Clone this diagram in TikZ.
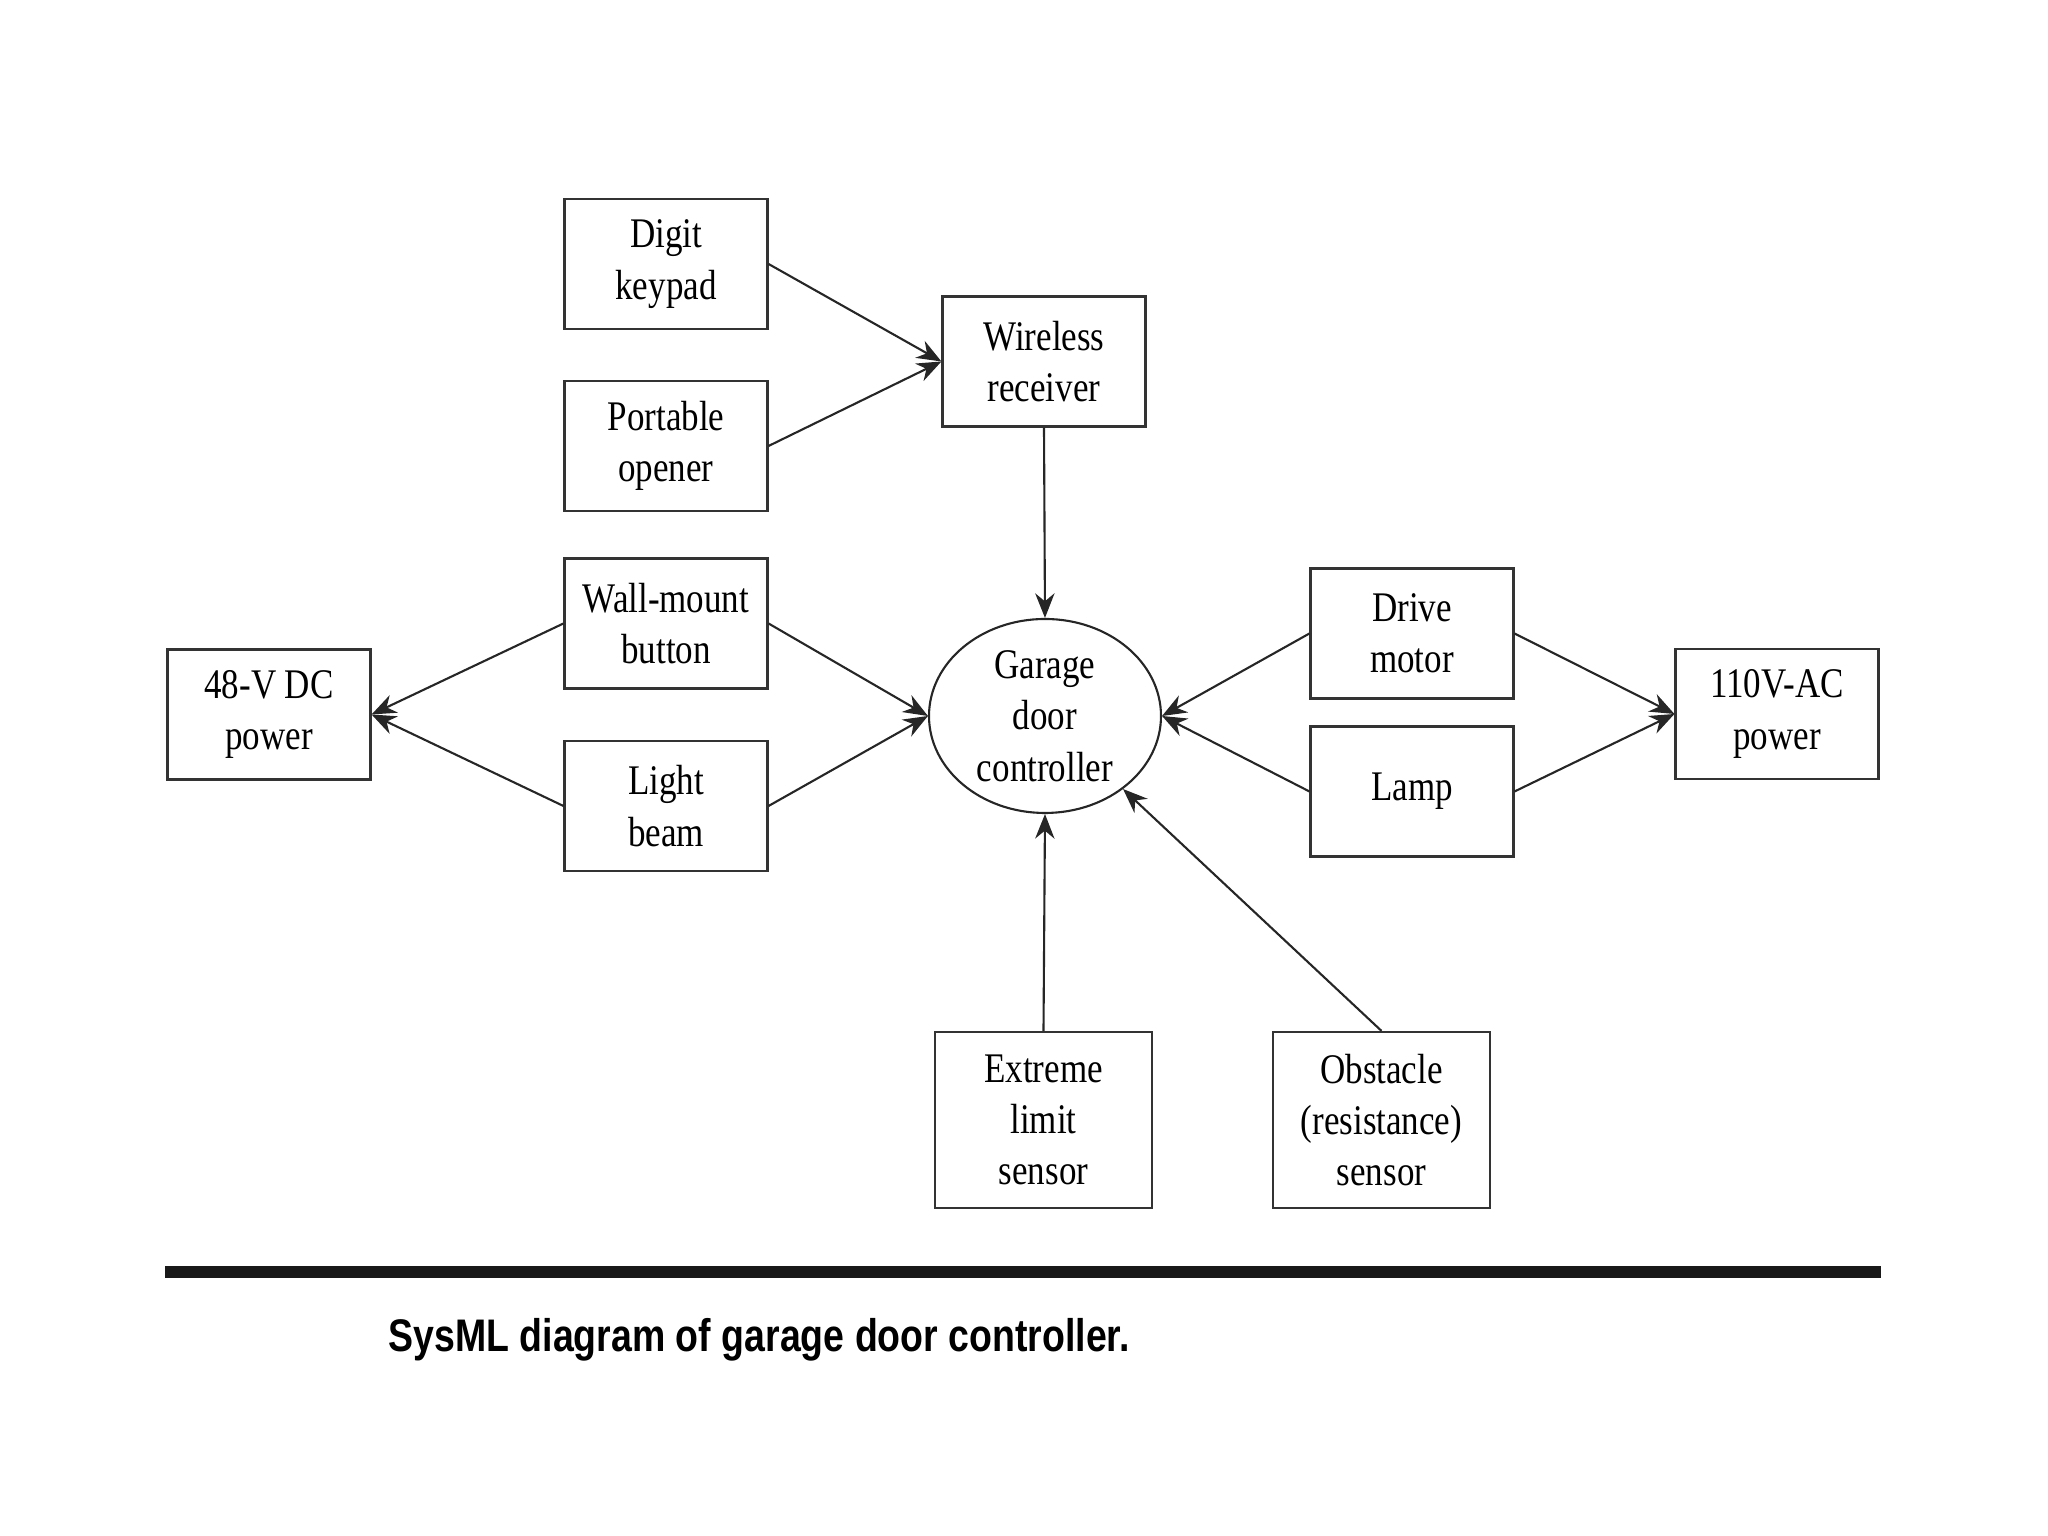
\documentclass[tikz,border=0pt]{standalone}
\usepackage{fontspec}
\newfontfamily\boxfont{Liberation Serif}[FakeStretch=0.83]
\newfontfamily\capfont{Liberation Sans}[FakeStretch=0.82]
\usetikzlibrary{arrows.meta,shapes.geometric}

\begin{document}
\begin{tikzpicture}[>={Stealth[length=7pt,width=5.5pt]},
  every node/.style={font=\boxfont\fontsize{12}{14.6}\selectfont},
  box/.style={draw=black!80, line width=0.6pt, align=center, minimum width=20.3mm, minimum height=13mm, inner sep=2pt},
  tall/.style={box, minimum width=21.7mm, minimum height=17.6mm},
  ctrl/.style={draw=black!85, line width=0.6pt, ellipse, align=center, minimum width=23.2mm, minimum height=19.4mm, inner sep=0pt},
  link/.style={->, line width=0.6pt, black!85}]
  \useasboundingbox (0,0) rectangle (20.48,15.36);
  % blocks
  \node[box] (keypad) at (6.66,12.72) {Digit\\keypad};
  \node[box] (opener) at (6.66,10.90) {Portable\\opener};
  \node[box] (radio) at (10.44,11.745) {Wireless\\receiver};
  \node[box] (wall) at (6.66,9.125) {Wall-mount\\button};
  \node[box] (beam) at (6.66,7.30) {Light\\beam};
  \node[box] (dc) at (2.69,8.215) {48-V DC\\power};
  \node[ctrl] (gdc) at (10.45,8.20) {Garage\\door\\controller};
  \node[box] (motor) at (14.12,9.025) {Drive\\motor};
  \node[box] (lamp) at (14.12,7.445) {Lamp};
  \node[box] (ac) at (17.77,8.22) {110V-AC\\power};
  \node[tall] (limit) at (10.435,4.16) {Extreme\\limit\\sensor};
  \node[tall] (obst) at (13.815,4.16) {Obstacle\\(resistance)\\sensor};
  % caption
  \node[fill=black!90, minimum width=171.6mm, minimum height=1.27mm, inner sep=0pt] (rule) at (10.23,2.64) {};
  \node[anchor=base west, inner sep=0pt, font=\capfont\bfseries\fontsize{13}{15}\selectfont] (cap) at (3.88,1.84) {SysML diagram of garage door controller.};
  % connectors
  \draw[link] (keypad.east) -- (radio.west);
  \draw[link] (opener.east) -- (radio.west);
  \draw[link] (radio.south) -- (gdc.north);
  \draw[link] (wall.west) -- (dc.east);
  \draw[link] (beam.west) -- (dc.east);
  \draw[link] (wall.east) -- (gdc.west);
  \draw[link] (beam.east) -- (gdc.west);
  \draw[link] (motor.west) -- (gdc.east);
  \draw[link] (lamp.west) -- (gdc.east);
  \draw[link] (motor.east) -- (ac.west);
  \draw[link] (lamp.east) -- (ac.west);
  \draw[link] (limit.north) -- (gdc.south);
  \draw[link] (obst.north) -- (gdc);
\end{tikzpicture}
\end{document}
